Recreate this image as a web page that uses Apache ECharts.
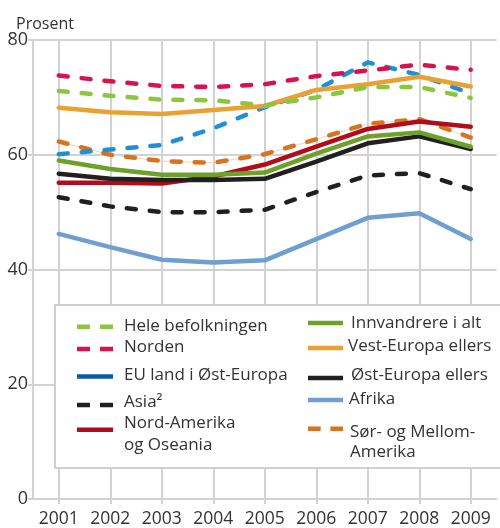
<!DOCTYPE html>
<html>
<head>
<meta charset="utf-8">
<style>
    html, body { margin: 0; padding: 0; overflow: hidden; background: #fff; }
</style>
</head>
<body>
<div id="chart" style="width:500px; height:528px;"></div>
<script src="https://cdn.jsdelivr.net/npm/echarts@6/dist/echarts.min.js"></script>
<script>
    var years = ['2001', '2002', '2003', '2004', '2005', '2006', '2007', '2008', '2009'];
    var yTicks = [0, 20, 40, 60, 80];

    var hele = [71.1, 70.3, 69.6, 69.5, 68.6, 70.0, 71.8, 71.8, 69.9];
    var norden = [73.8, 72.8, 72.0, 71.8, 72.3, 73.7, 74.7, 75.7, 74.8];
    var euOst = [60.1, 60.9, 61.7, 64.6, 68.3, 71.3, 76.1, 73.9, 70.7];
    var asia = [52.6, 51.0, 50.0, 50.0, 50.4, 53.5, 56.4, 56.8, 54.0];
    var nordAm = [55.1, 55.1, 55.0, 56.2, 58.3, 61.4, 64.5, 65.8, 64.9];
    var innv = [59.0, 57.5, 56.5, 56.5, 56.9, 60.2, 63.2, 63.9, 61.4];
    var vest = [68.2, 67.4, 67.1, 67.8, 68.5, 71.3, 72.3, 73.6, 71.9];
    var ostEllers = [56.7, 55.8, 55.6, 55.6, 55.8, 58.8, 62.0, 63.2, 61.0];
    var afrika = [46.2, 43.9, 41.7, 41.2, 41.6, 45.3, 49.0, 49.8, 45.3];
    var sor = [62.3, 60.0, 58.9, 58.6, 60.1, 62.7, 65.4, 66.2, 63.0];

    var FONT = '"Open Sans", sans-serif';
    var GRID = '#d2d2d2';
    var DASH = [9, 14];
    var LW = 4.5;
    var ICON_DASHED = 'path://M0,0H13V4.5H0Z M23,0H36V4.5H23Z';
    var ICON_SOLID = 'rect';

    function line(name, data, color, dashed, width) {
        return {
            name: name,
            type: 'line',
            data: data,
            symbol: 'none',
            silent: true,
            itemStyle: {color: color},
            lineStyle: {
                color: color,
                width: width || LW,
                type: dashed ? DASH : 'solid',
                cap: 'round',
                join: 'round'
            }
        };
    }

    // one legend per entry; cy = icon centre, ty = centre of first text line.
    // text is centred on the icon, so an empty spacer line shifts it up or down
    function legendItem(name, left, cy, ty, opts) {
        opts = opts || {};
        var n = name.split('\n').length;
        var L = opts.lh || 21;
        var d = ty - cy;
        var padT = 2 * d + (n - 1) * L;
        var padB = 0;
        if (padT < 0) { padB = -padT; padT = 0; }
        var item = {name: name, icon: opts.dashed ? ICON_DASHED : ICON_SOLID};
        if (opts.color) item.itemStyle = {color: opts.color};
        return {
            data: [item],
            left: left,
            top: cy - Math.max(LW / 2, n * L / 2),
            orient: 'vertical',
            padding: 0,
            itemWidth: opts.w || 36,
            itemHeight: LW,
            selectedMode: false,
            formatter: function (nm) {
                var parts = nm.split('\n').map(function (s) { return '{a|' + s + '}'; });
                if (padT > 0.5) parts.unshift('{t| }');
                if (padB > 0.5) parts.push('{b| }');
                return parts.join('\n');
            },
            textStyle: {
                padding: [0, 0, 0, opts.pl || 0],
                rich: {
                    a: {fontFamily: FONT, fontSize: 17, color: '#333', lineHeight: L},
                    t: {fontSize: 1, lineHeight: padT},
                    b: {fontSize: 1, lineHeight: padB}
                }
            }
        };
    }

    var chart = echarts.init(document.getElementById('chart'), null, {renderer: 'canvas'});
    chart.setOption({
        animation: false,
        backgroundColor: '#fff',
        title: {
            text: 'Prosent',
            left: 11,
            top: 11,
            textStyle: {fontFamily: FONT, fontSize: 16, fontWeight: 'normal', color: '#333'}
        },
        grid: {left: 33, right: 3.5, top: 40, bottom: 28, containLabel: false},
        xAxis: {
            type: 'category',
            data: years,
            boundaryGap: true,
            axisLine: {lineStyle: {color: GRID, width: 2}},
            axisTick: {show: true, interval: 0, alignWithLabel: true, length: 5, lineStyle: {color: GRID, width: 2}},
            splitLine: {show: true, interval: 0, alignWithLabel: true, lineStyle: {color: GRID, width: 2}},
            axisLabel: {interval: 0, fontFamily: FONT, fontSize: 17.5, color: '#333', margin: 11}
        },
        yAxis: {
            type: 'value',
            min: yTicks[0],
            max: yTicks[yTicks.length - 1],
            interval: 20,
            axisLine: {show: true, lineStyle: {color: GRID, width: 2}},
            axisTick: {show: true, length: 5, lineStyle: {color: GRID, width: 2}},
            splitLine: {show: true, lineStyle: {color: GRID, width: 2}},
            axisLabel: {fontFamily: FONT, fontSize: 18, color: '#333', margin: 5}
        },
        graphic: [{
            type: 'rect',
            z: 3,
            shape: {x: 55, y: 305, width: 460, height: 163},
            style: {fill: '#fff', stroke: '#cfcfcf', lineWidth: 2}
        }],
        legend: [
            legendItem('Hele befolkningen', 77, 327.7, 326.7, {dashed: true, pl: 6}),
            legendItem('Norden', 77, 349.3, 347.7, {dashed: true, pl: 6}),
            legendItem('EU land i Øst-Europa', 77, 376.7, 375, {pl: 6, color: '#0a5aa8'}),
            legendItem('Asia\u00b2', 77, 404, 401, {dashed: true, pl: 6}),
            legendItem('Nord-Amerika\nog Oseania', 77, 429.3, 423, {lh: 22, pl: 6}),
            legendItem('Innvandrere i alt', 308, 325, 325, {w: 35, pl: 3}),
            legendItem('Vest-Europa ellers', 308, 348.3, 346.7, {w: 35, pl: 0}),
            legendItem('Øst-Europa ellers', 308, 377, 374, {w: 35, pl: 3}),
            legendItem('Afrika', 308, 401.5, 401, {w: 35, pl: 1}),
            legendItem('Sør- og Mellom-\nAmerika', 308, 428.3, 431.5, {lh: 20.5, w: 35, pl: 2, dashed: true})
        ],
        series: [
            line('Afrika', afrika, '#6f9fcf', false),
            line('Asia\u00b2', asia, '#231f20', true),
            line('Sør-thin', sor, '#f2d3bb', false, 1),
            line('Sør- og Mellom-\nAmerika', sor, '#d8731f', true),
            line('EU land i Øst-Europa', euOst, '#1f90d4', true),
            line('Nord-Amerika\nog Oseania', nordAm, '#b10c1b', false),
            line('Øst-Europa ellers', ostEllers, '#231f20', false),
            line('Innvandrere i alt', innv, '#6ea12b', false),
            line('Vest-Europa ellers', vest, '#eaa133', false),
            line('Hele befolkningen', hele, '#8cc63f', true),
            line('Norden', norden, '#d7124f', true)
        ]
    });
</script>
</body>
</html>
